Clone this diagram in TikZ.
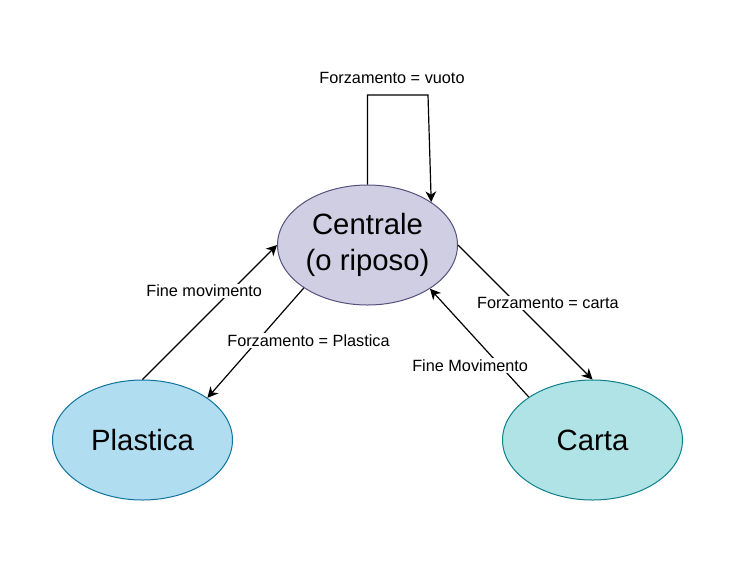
\documentclass[tikz,border=0pt]{standalone}
\usepackage{fontspec}
\setmainfont{Liberation Sans}
\usetikzlibrary{arrows.meta,shapes.geometric}
\definecolor{centralefill}{HTML}{D0CEE2}
\definecolor{centraledraw}{HTML}{56517E}
\definecolor{plasticafill}{HTML}{B1DDF0}
\definecolor{plasticadraw}{HTML}{10739E}
\definecolor{cartafill}{HTML}{B0E3E6}
\definecolor{cartadraw}{HTML}{0E8088}
\begin{document}
\begin{tikzpicture}[x=0.75pt,y=-0.75pt,line width=0.9pt,
                >={Stealth[length=8pt,width=8pt,inset=2.5pt]},
                stato/.style={ellipse, draw, line width=0.75pt, minimum width=135pt, minimum height=90pt, inner sep=0pt, align=center, font=\fontsize{22}{26.4}\selectfont},
                etichetta/.style={fill=white, inner sep=1pt, font=\fontsize{12.2}{14}\selectfont}]
                \useasboundingbox (0,0) rectangle (748,586);
                \node[stato, fill=centralefill, draw=centraledraw] (C) at (367.5,245) {Centrale\\(o riposo)};
                \node[stato, fill=plasticafill, draw=plasticadraw] (P) at (142.5,440) {Plastica};
                \node[stato, fill=cartafill, draw=cartadraw] (K) at (592.5,440) {Carta};
                \coordinate (L) at (428,95);
                \node[etichetta] (vuoto) at (392,78) {Forzamento = vuoto};
                \draw[->] (C.90) |- (L) -- (C.34);
                \draw[->] (P.90) to node[etichetta, pos=0.657, xshift=-20pt] {Fine movimento} (C.180);
                \draw[->] (C.214) to node[etichetta, pos=0.477, xshift=38pt] {Forzamento = Plastica} (P.33);
                \draw[->] (C.0) to node[etichetta, pos=0.43, xshift=24pt] {Forzamento = carta} (K.90);
                \draw[->] (K.146) to node[etichetta, pos=0.29, xshift=-22.5pt] {Fine Movimento} (C.325);
            \end{tikzpicture}
\end{document}
